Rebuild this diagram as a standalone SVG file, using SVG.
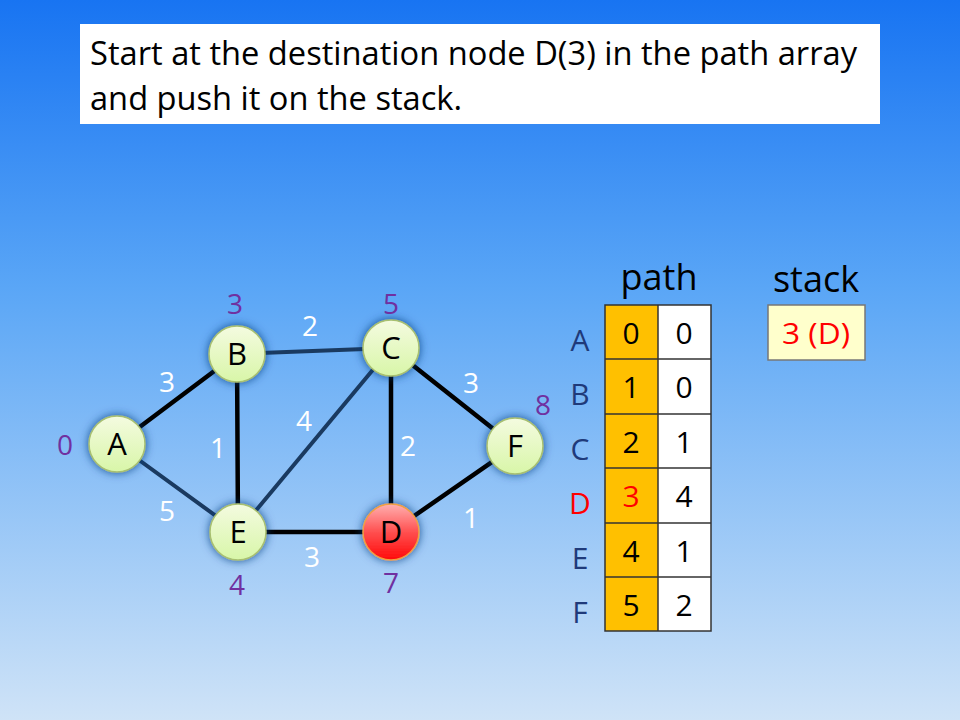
<svg xmlns="http://www.w3.org/2000/svg" width="960" height="720" viewBox="0 0 960 720">
<defs>
<linearGradient id="bg" x1="0" y1="0" x2="0" y2="1">
<stop offset="0" stop-color="#1874f2"/>
<stop offset="0.4" stop-color="#5aa6f6"/>
<stop offset="1" stop-color="#cfe3f7"/>
</linearGradient>
<linearGradient id="gn" x1="0" y1="0" x2="0" y2="1">
<stop offset="0" stop-color="#f4fbe0"/>
<stop offset="1" stop-color="#d8f6a8"/>
</linearGradient>
<linearGradient id="rd" x1="0" y1="0" x2="0" y2="1">
<stop offset="0" stop-color="#ffb0b0"/>
<stop offset="0.5" stop-color="#ff5050"/>
<stop offset="1" stop-color="#ff0a0a"/>
</linearGradient>
<filter id="sh" x="-50%" y="-50%" width="200%" height="200%">
<feGaussianBlur in="SourceAlpha" stdDeviation="5" result="b"/>
<feFlood flood-color="#0d3b80" flood-opacity="0.85"/>
<feComposite operator="in" in2="b" result="s"/>
<feMerge><feMergeNode in="s"/><feMergeNode in="SourceGraphic"/></feMerge>
</filter>
</defs>
<style>
text{font-family:"Open Sans","Noto Sans","Liberation Sans",sans-serif;}
.t{font-size:32px;fill:#000;}
.nl{font-size:31px;fill:#000;text-anchor:middle;}
.dist{font-size:28px;fill:#7030a0;text-anchor:middle;}
.w{font-size:28px;fill:#fff;text-anchor:middle;}
.blk{stroke:#000;stroke-width:4.5;stroke-linecap:round;}
.nav{stroke:#1a3a60;stroke-width:4;stroke-linecap:round;}
.node{fill:url(#gn);stroke:#a8c070;stroke-width:1.5;filter:url(#sh);}
.cell{font-size:30px;fill:#000;text-anchor:middle;}
.rl{font-size:30px;fill:#1f3a7a;text-anchor:middle;}
</style>
<rect width="960" height="720" fill="url(#bg)"/>
<g id="title">
<rect x="80" y="24" width="800" height="100" fill="#fff"/>
<text class="t" x="90" y="65" textLength="767" lengthAdjust="spacingAndGlyphs">Start at the destination node D(3) in the path array</text>
<text class="t" x="90" y="110" textLength="372" lengthAdjust="spacingAndGlyphs">and push it on the stack.</text>
</g>
<g id="connectors">
<line class="nav" x1="237" y1="354" x2="391" y2="348"/>
<line class="nav" x1="238" y1="532" x2="391" y2="348"/>
<line class="nav" x1="117" y1="444" x2="238" y2="532"/>
<line class="blk" x1="117" y1="444" x2="237" y2="354"/>
<line class="blk" x1="237" y1="354" x2="238" y2="532"/>
<line class="blk" x1="391" y1="348" x2="391" y2="532"/>
<line class="blk" x1="391" y1="348" x2="515" y2="446"/>
<line class="blk" x1="391" y1="532" x2="515" y2="446"/>
<line class="blk" x1="238" y1="532" x2="391" y2="532"/>
</g>
<g id="edge-labels">
<text class="w" x="167" y="392">3</text>
<text class="w" x="310" y="336">2</text>
<text class="w" x="304" y="431">4</text>
<text class="w" x="218" y="458">1</text>
<text class="w" x="408" y="456">2</text>
<text class="w" x="471" y="393">3</text>
<text class="w" x="167" y="521">5</text>
<text class="w" x="312" y="567">3</text>
<text class="w" x="471" y="528">1</text>
</g>
<g id="node-A"><circle class="node" cx="117" cy="444" r="28"/><text class="nl" x="117" y="455">A</text><text class="dist" x="65" y="455">0</text></g>
<g id="node-B"><circle class="node" cx="237" cy="354" r="28"/><text class="nl" x="237" y="365">B</text><text class="dist" x="235" y="314">3</text></g>
<g id="node-C"><circle class="node" cx="391" cy="348" r="28"/><text class="nl" x="391" y="359">C</text><text class="dist" x="391" y="314">5</text></g>
<g id="node-F"><circle class="node" cx="515" cy="446" r="28"/><text class="nl" x="515" y="457">F</text><text class="dist" x="543" y="415">8</text></g>
<g id="node-E"><circle class="node" cx="238" cy="532" r="28"/><text class="nl" x="238" y="543">E</text><text class="dist" x="237" y="595">4</text></g>
<g id="node-D"><circle cx="391" cy="532" r="28" fill="url(#rd)" stroke="#f0a040" stroke-width="1.5" filter="url(#sh)"/><text class="nl" x="391" y="543">D</text><text class="dist" x="391" y="593">7</text></g>
<g id="path-table">
<text x="659" y="290" font-size="36" text-anchor="middle" fill="#000">path</text>
<rect x="605" y="305" width="53" height="326" fill="#ffc000"/>
<rect x="658" y="305" width="53" height="326" fill="#fff"/>
<g stroke="#333" stroke-width="1.5" fill="none">
<rect x="605" y="305" width="106" height="326"/>
<line x1="658" y1="305" x2="658" y2="631"/>
<line x1="605" y1="359" x2="711" y2="359"/>
<line x1="605" y1="414" x2="711" y2="414"/>
<line x1="605" y1="468" x2="711" y2="468"/>
<line x1="605" y1="523" x2="711" y2="523"/>
<line x1="605" y1="577" x2="711" y2="577"/>
</g>
<text class="rl" x="580" y="351">A</text>
<text class="rl" x="580" y="405">B</text>
<text class="rl" x="580" y="460">C</text>
<text class="rl" x="580" y="514" style="fill:#ff0000">D</text>
<text class="rl" x="580" y="569">E</text>
<text class="rl" x="580" y="623">F</text>
<text class="cell" x="631" y="344">0</text><text class="cell" x="684" y="344">0</text>
<text class="cell" x="631" y="398">1</text><text class="cell" x="684" y="398">0</text>
<text class="cell" x="631" y="453">2</text><text class="cell" x="684" y="453">1</text>
<text class="cell" x="631" y="507" style="fill:#ff0000">3</text><text class="cell" x="684" y="507">4</text>
<text class="cell" x="631" y="562">4</text><text class="cell" x="684" y="562">1</text>
<text class="cell" x="631" y="616">5</text><text class="cell" x="684" y="616">2</text>
</g>
<g id="stack">
<text x="816" y="292" font-size="36" text-anchor="middle" fill="#000">stack</text>
<rect x="768" y="305" width="97" height="55" fill="#ffffcc" stroke="#777" stroke-width="1.5"/>
<text x="816" y="344" font-size="30" text-anchor="middle" fill="#ff0000" textLength="68" lengthAdjust="spacingAndGlyphs">3 (D)</text>
</g>
</svg>
